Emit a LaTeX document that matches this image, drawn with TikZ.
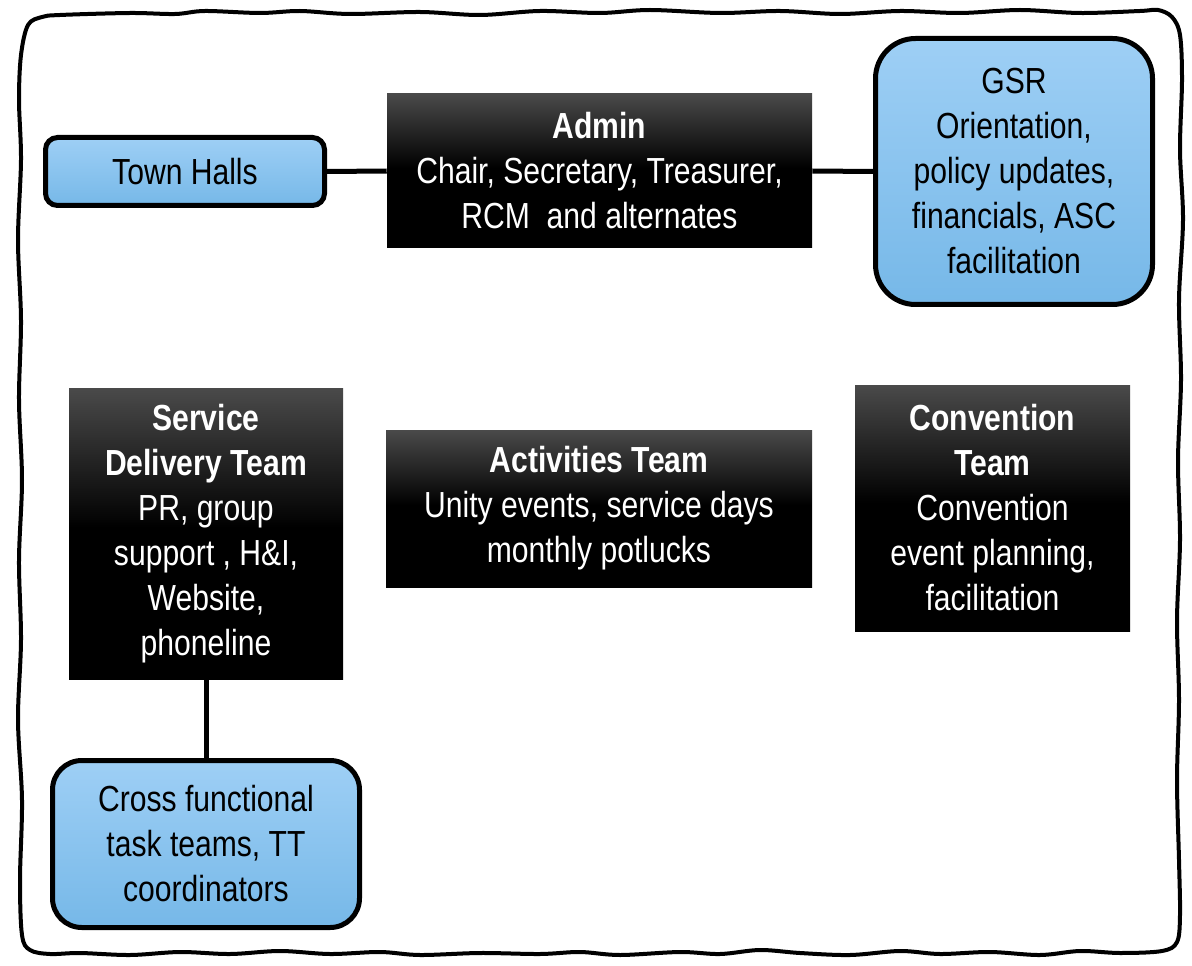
\documentclass[tikz,border=0pt]{standalone}
\usepackage{fontspec}
\setmainfont{Liberation Sans}[FakeStretch=0.83]
\definecolor{bluetop}{RGB}{158,207,245}
\definecolor{bluebot}{RGB}{118,184,232}
\pgfdeclareverticalshading{blackbox}{100bp}{color(0bp)=(black); color(25bp)=(black); color(51bp)=(black); color(75bp)=(black!71!white); color(100bp)=(black!71!white)}
\tikzset{
  txt/.style={font=\fontsize{27.2pt}{33.75pt}\selectfont, align=center, inner sep=0pt},
  bluebox/.style={txt, draw=black, line width=3.75pt, top color=bluetop, bottom color=bluebot, text=black},
  darkbox/.style={txt, shading=blackbox, text=white},
  conn/.style={line width=3.75pt, black},
  frame/.style={line width=3pt, black}
}
\begin{document}
\begin{tikzpicture}[x=0.75pt, y=-0.75pt]
\useasboundingbox[fill=white] (0,0) rectangle (1192,966);
% wavy frame
\draw[frame] plot[smooth cycle, tension=0.55] coordinates {
 (60,15) (130,13) (175,14) (205,11) (260,13) (300,11) (350,14) (420,12) (480,15) (540,11) (600,13) (650,10) (720,13) (780,11) (840,14) (900,11) (960,13) (1020,10) (1080,13) (1140,11) (1158,10)
 (1172,17) (1180,35)
 (1182,80) (1180,150) (1183,220) (1179,300) (1181,380) (1178,460) (1180,540) (1177,620) (1179,700) (1177,780) (1179,860) (1180,915)
 (1177,942) (1162,951)
 (1120,953) (1080,951) (1040,955) (990,952) (940,954) (900,951) (850,955) (800,953) (760,950) (720,954) (680,952) (620,955) (580,952) (540,954) (480,953) (420,955) (380,952) (330,954) (280,951) (230,954) (180,952) (130,955) (80,953) (50,954)
 (30,950) (22,935)
 (20,880) (22,800) (18,720) (21,640) (19,560) (22,480) (19,400) (21,320) (18,240) (21,160) (19,100) (21,55) (28,25) (42,17)
};

\node[bluebox, minimum width=209.25pt, minimum height=51pt, rounded corners=9pt] (th) at (185,171.5) {Town Halls};
\node[darkbox, minimum width=318.75pt, minimum height=115.5pt] (admin) at (599.5,171) {\textbf{Admin}\\Chair, Secretary, Treasurer,\\RCM\ \ and alternates};
\node[bluebox, minimum width=207.75pt, minimum height=199.5pt, rounded corners=30pt] (gsr) at (1014,171.5) {GSR\\Orientation,\\policy updates,\\financials, ASC\\facilitation};
\node[darkbox, minimum width=205.5pt, minimum height=218.25pt] (sdt) at (206,533.5) {\textbf{Service}\\\textbf{Delivery Team}\\PR, group\\support , H\&I,\\Website,\\phoneline};
\node[darkbox, minimum width=319.5pt, minimum height=117.75pt] (act) at (599,508.5) {\textbf{Activities Team}\\Unity events, service days\\monthly potlucks};
\node[darkbox, minimum width=206.25pt, minimum height=184.5pt] (conv) at (992.5,508) {\textbf{Convention}\\\textbf{Team}\\Convention\\event planning,\\facilitation};
\node[bluebox, minimum width=230.25pt, minimum height=125.25pt, rounded corners=22pt] (cross) at (206,844) {Cross functional\\task teams, TT\\coordinators};

\draw[conn] (th.east) -- (admin.west);
\draw[conn] (admin.east) -- (gsr.west);
\draw[conn] (sdt.south) -- (cross.north);
\end{tikzpicture}
\end{document}
